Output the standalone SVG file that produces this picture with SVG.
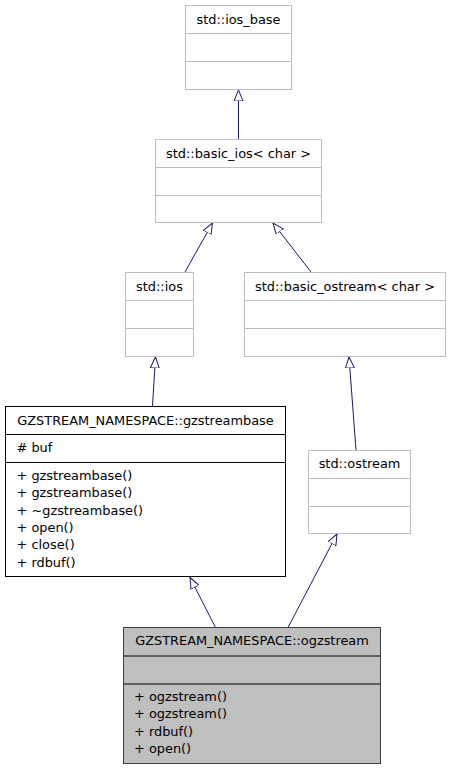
<svg xmlns="http://www.w3.org/2000/svg" width="451" height="771" viewBox="0 0 451 771">
<style>
text{font-family:"DejaVu Sans",sans-serif;font-size:12.9px;fill:#000}
.c{text-anchor:middle}
.g rect,.g line{fill:#fff;stroke:#bfbfbf;stroke-width:1}
.b rect,.b line{fill:#fff;stroke:#000;stroke-width:1}
.s rect{fill:#bfbfbf;stroke:#404040;stroke-width:1}
.s line{stroke:#000;stroke-width:1}
.e{stroke:#191970;fill:none;stroke-width:1}
</style>
<defs>
<marker id="a" viewBox="0 0 12 10" refX="11" refY="5" markerWidth="12" markerHeight="10" markerUnits="userSpaceOnUse" orient="auto">
<path d="M0,0.5 L11,5 L0,9.5 Z" fill="#fff" stroke="#191970" stroke-width="1"/>
</marker>
</defs>
<g id="edges">
<line class="e" x1="238.5" y1="139" x2="238.5" y2="90" marker-end="url(#a)"/>
<line class="e" x1="185" y1="272" x2="212.5" y2="223" marker-end="url(#a)"/>
<line class="e" x1="311" y1="272" x2="273" y2="223" marker-end="url(#a)"/>
<line class="e" x1="152.5" y1="406" x2="155.5" y2="357" marker-end="url(#a)"/>
<line class="e" x1="356" y1="450" x2="349" y2="357" marker-end="url(#a)"/>
<line class="e" x1="215.5" y1="627.5" x2="190" y2="577.5" marker-end="url(#a)"/>
<line class="e" x1="288" y1="627.5" x2="337" y2="534" marker-end="url(#a)"/>
</g>
<g id="ios_base" class="g">
<rect x="185.5" y="5.5" width="106" height="84"/>
<line x1="185.5" y1="33.5" x2="291.5" y2="33.5"/>
<line x1="185.5" y1="61.5" x2="291.5" y2="61.5"/>
<text class="c" x="238.5" y="23.5">std::ios_base</text>
</g>
<g id="basic_ios" class="g">
<rect x="155.5" y="139.5" width="166" height="83"/>
<line x1="155.5" y1="167.5" x2="321.5" y2="167.5"/>
<line x1="155.5" y1="195.5" x2="321.5" y2="195.5"/>
<text class="c" x="238.5" y="157.5">std::basic_ios&lt; char &gt;</text>
</g>
<g id="ios" class="g">
<rect x="125.5" y="272.5" width="68" height="84"/>
<line x1="125.5" y1="300.5" x2="193.5" y2="300.5"/>
<line x1="125.5" y1="328.5" x2="193.5" y2="328.5"/>
<text class="c" x="159.5" y="290.5">std::ios</text>
</g>
<g id="basic_ostream" class="g">
<rect x="244.5" y="272.5" width="201" height="84"/>
<line x1="244.5" y1="300.5" x2="445.5" y2="300.5"/>
<line x1="244.5" y1="328.5" x2="445.5" y2="328.5"/>
<text class="c" x="345" y="290.5">std::basic_ostream&lt; char &gt;</text>
</g>
<g id="gzstreambase" class="b">
<rect x="5.5" y="406.5" width="280" height="170"/>
<line x1="5.5" y1="434.5" x2="285.5" y2="434.5"/>
<line x1="5.5" y1="462.5" x2="285.5" y2="462.5"/>
<text class="c" x="145.5" y="424.5">GZSTREAM_NAMESPACE::gzstreambase</text>
<text x="16.5" y="451.7"># buf</text>
<text x="16.5" y="480">+ gzstreambase()</text>
<text x="16.5" y="497.3">+ gzstreambase()</text>
<text x="16.5" y="514.6">+ ~gzstreambase()</text>
<text x="16.5" y="532">+ open()</text>
<text x="16.5" y="549.3">+ close()</text>
<text x="16.5" y="566.6">+ rdbuf()</text>
</g>
<g id="ostream" class="g">
<rect x="308.5" y="450.5" width="102" height="83"/>
<line x1="308.5" y1="478.5" x2="410.5" y2="478.5"/>
<line x1="308.5" y1="506.5" x2="410.5" y2="506.5"/>
<text class="c" x="359.5" y="467.5">std::ostream</text>
</g>
<g id="ogzstream" class="s">
<rect x="123.5" y="627.5" width="257" height="136"/>
<line x1="123.5" y1="656" x2="380.5" y2="656"/>
<line x1="123.5" y1="684" x2="380.5" y2="684"/>
<text class="c" x="252" y="644.5">GZSTREAM_NAMESPACE::ogzstream</text>
<text x="134" y="701">+ ogzstream()</text>
<text x="134" y="718.3">+ ogzstream()</text>
<text x="134" y="735.6">+ rdbuf()</text>
<text x="134" y="753">+ open()</text>
</g>
</svg>
